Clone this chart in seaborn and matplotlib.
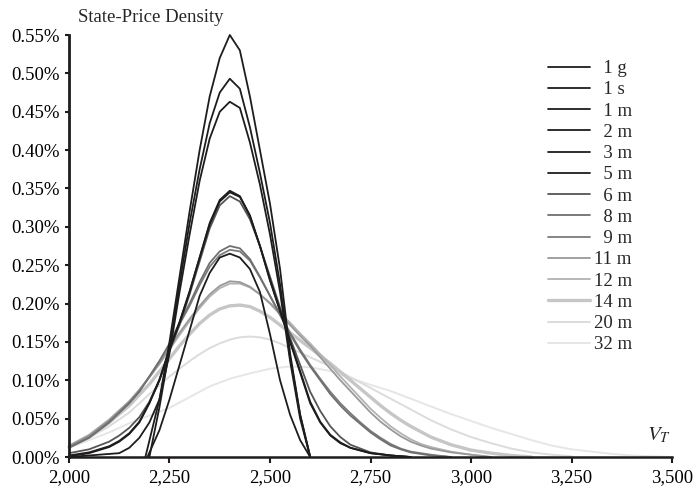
import matplotlib
matplotlib.use("Agg")
import matplotlib.pyplot as plt
from matplotlib.ticker import FuncFormatter
import numpy as np
import pandas as pd
import seaborn as sns

# maturities (legend labels) and their state-price densities (in %)
labels = ["1 g", "1 s", "1 m", "2 m", "3 m", "5 m", "6 m", "8 m", "9 m",
          "11 m", "12 m", "14 m", "20 m", "32 m"]

x_1g = [2190, 2225, 2250, 2275, 2300, 2325, 2350, 2375, 2400, 2425, 2450, 2475, 2500, 2525, 2550, 2575, 2600]
y_1g = [0.0, 0.075, 0.15, 0.235, 0.32, 0.40, 0.47, 0.52, 0.55, 0.53, 0.47, 0.40, 0.33, 0.245, 0.135, 0.055, 0.0]

x_1s = [2200, 2225, 2250, 2275, 2300, 2325, 2350, 2375, 2400, 2425, 2450, 2475, 2500, 2525, 2550, 2575, 2600]
y_1s = [0.0, 0.065, 0.14, 0.225, 0.305, 0.375, 0.435, 0.475, 0.493, 0.48, 0.43, 0.37, 0.305, 0.225, 0.13, 0.055, 0.0]

x_1m = [2000, 2125, 2150, 2175, 2200, 2225, 2250, 2275, 2300, 2325, 2350, 2375, 2400, 2425, 2450, 2475, 2500, 2525, 2550, 2575, 2600]
y_1m = [0.0, 0.005, 0.012, 0.025, 0.045, 0.075, 0.135, 0.215, 0.29, 0.36, 0.415, 0.45, 0.463, 0.455, 0.41, 0.355, 0.29, 0.215, 0.125, 0.05, 0.0]

x_2m = [2000, 2050, 2100, 2125, 2150, 2175, 2200, 2225, 2250, 2275, 2300, 2325, 2350, 2375, 2400, 2425, 2450, 2475, 2500, 2525, 2550, 2575, 2600, 2625, 2650, 2675, 2700, 2750, 2800, 2850]
y_2m = [0.001, 0.005, 0.013, 0.02, 0.03, 0.045, 0.07, 0.10, 0.14, 0.175, 0.215, 0.26, 0.305, 0.335, 0.347, 0.34, 0.315, 0.275, 0.23, 0.19, 0.15, 0.11, 0.07, 0.045, 0.028, 0.018, 0.012, 0.005, 0.002, 0.0]

x_3m = [2000, 2050, 2100, 2125, 2150, 2175, 2200, 2225, 2250, 2275, 2300, 2325, 2350, 2375, 2400, 2425, 2450, 2475, 2500, 2525, 2550, 2575, 2600, 2625, 2650, 2675, 2700, 2750, 2800, 2850]
y_3m = [0.002, 0.006, 0.014, 0.021, 0.031, 0.046, 0.071, 0.101, 0.141, 0.176, 0.216, 0.26, 0.303, 0.333, 0.345, 0.339, 0.314, 0.275, 0.231, 0.191, 0.151, 0.112, 0.072, 0.046, 0.029, 0.019, 0.012, 0.005, 0.002, 0.0]

x_5m = [2195, 2225, 2250, 2275, 2300, 2325, 2350, 2375, 2400, 2425, 2450, 2475, 2500, 2525, 2550, 2575, 2600]
y_5m = [0.0, 0.035, 0.075, 0.12, 0.165, 0.21, 0.24, 0.26, 0.265, 0.26, 0.245, 0.215, 0.16, 0.10, 0.055, 0.022, 0.0]

x_6m = [2000, 2050, 2100, 2125, 2150, 2175, 2200, 2225, 2250, 2275, 2300, 2325, 2350, 2375, 2400, 2425, 2450, 2475, 2500, 2525, 2550, 2575, 2600, 2625, 2650, 2675, 2700, 2750, 2800, 2850]
y_6m = [0.005, 0.01, 0.02, 0.028, 0.038, 0.052, 0.072, 0.10, 0.138, 0.172, 0.212, 0.255, 0.298, 0.328, 0.34, 0.333, 0.31, 0.275, 0.235, 0.195, 0.155, 0.12, 0.085, 0.06, 0.04, 0.026, 0.016, 0.006, 0.002, 0.0]

x_8m = [2000, 2050, 2100, 2150, 2175, 2200, 2225, 2250, 2275, 2300, 2325, 2350, 2375, 2400, 2425, 2450, 2475, 2500, 2525, 2550, 2575, 2600, 2625, 2650, 2675, 2700, 2725, 2750, 2775, 2800, 2825, 2850, 2900, 2950]
y_8m = [0.012, 0.025, 0.045, 0.07, 0.085, 0.105, 0.125, 0.148, 0.175, 0.20, 0.228, 0.253, 0.268, 0.275, 0.272, 0.258, 0.235, 0.21, 0.185, 0.16, 0.138, 0.118, 0.10, 0.082, 0.067, 0.054, 0.043, 0.032, 0.023, 0.015, 0.01, 0.006, 0.002, 0.0]

x_9m = [2000, 2050, 2100, 2150, 2175, 2200, 2225, 2250, 2275, 2300, 2325, 2350, 2375, 2400, 2425, 2450, 2475, 2500, 2525, 2550, 2575, 2600, 2625, 2650, 2675, 2700, 2725, 2750, 2775, 2800, 2825, 2850, 2900, 2950]
y_9m = [0.013, 0.026, 0.046, 0.071, 0.086, 0.105, 0.125, 0.147, 0.173, 0.197, 0.224, 0.248, 0.263, 0.27, 0.268, 0.256, 0.234, 0.21, 0.186, 0.162, 0.14, 0.12, 0.102, 0.085, 0.07, 0.057, 0.045, 0.034, 0.025, 0.017, 0.011, 0.007, 0.003, 0.0]

x_11m = [2000, 2050, 2100, 2150, 2175, 2200, 2225, 2250, 2275, 2300, 2325, 2350, 2375, 2400, 2425, 2450, 2475, 2500, 2525, 2550, 2575, 2600, 2625, 2650, 2675, 2700, 2725, 2750, 2775, 2800, 2825, 2850, 2875, 2900, 2950, 3000, 3050]
y_11m = [0.014, 0.028, 0.048, 0.072, 0.087, 0.104, 0.122, 0.142, 0.162, 0.18, 0.197, 0.212, 0.223, 0.229, 0.228, 0.222, 0.212, 0.20, 0.186, 0.172, 0.158, 0.145, 0.13, 0.115, 0.10, 0.086, 0.072, 0.058, 0.046, 0.036, 0.027, 0.02, 0.015, 0.011, 0.006, 0.003, 0.0]

x_12m = [2000, 2050, 2100, 2150, 2175, 2200, 2225, 2250, 2275, 2300, 2325, 2350, 2375, 2400, 2425, 2450, 2475, 2500, 2525, 2550, 2575, 2600, 2625, 2650, 2675, 2700, 2725, 2750, 2775, 2800, 2825, 2850, 2875, 2900, 2950, 3000, 3050]
y_12m = [0.015, 0.029, 0.049, 0.073, 0.088, 0.104, 0.121, 0.14, 0.159, 0.177, 0.194, 0.209, 0.22, 0.226, 0.226, 0.221, 0.212, 0.201, 0.188, 0.175, 0.161, 0.148, 0.134, 0.12, 0.105, 0.091, 0.077, 0.063, 0.051, 0.04, 0.031, 0.023, 0.017, 0.013, 0.007, 0.003, 0.0]

x_14m = [2000, 2050, 2100, 2150, 2200, 2250, 2275, 2300, 2325, 2350, 2375, 2400, 2425, 2450, 2475, 2500, 2525, 2550, 2575, 2600, 2625, 2650, 2675, 2700, 2725, 2750, 2775, 2800, 2825, 2850, 2875, 2900, 2950, 3000, 3050, 3100, 3150]
y_14m = [0.013, 0.026, 0.045, 0.067, 0.095, 0.128, 0.145, 0.16, 0.174, 0.185, 0.193, 0.197, 0.198, 0.196, 0.19, 0.182, 0.172, 0.162, 0.152, 0.142, 0.132, 0.122, 0.111, 0.10, 0.089, 0.078, 0.067, 0.057, 0.048, 0.04, 0.033, 0.026, 0.016, 0.009, 0.005, 0.002, 0.0]

x_20m = [2000, 2050, 2100, 2150, 2200, 2250, 2300, 2325, 2350, 2375, 2400, 2425, 2450, 2475, 2500, 2525, 2550, 2575, 2600, 2650, 2700, 2750, 2800, 2850, 2900, 2950, 3000, 3050, 3100, 3150, 3200, 3250]
y_20m = [0.013, 0.025, 0.04, 0.058, 0.082, 0.105, 0.125, 0.134, 0.142, 0.148, 0.153, 0.156, 0.157, 0.156, 0.153, 0.148, 0.142, 0.136, 0.13, 0.118, 0.104, 0.09, 0.076, 0.062, 0.048, 0.036, 0.026, 0.018, 0.011, 0.006, 0.003, 0.001]

x_32m = [2000, 2050, 2100, 2150, 2200, 2250, 2300, 2350, 2400, 2450, 2500, 2550, 2600, 2650, 2700, 2750, 2800, 2850, 2900, 2950, 3000, 3050, 3100, 3150, 3200, 3250, 3300, 3350, 3400, 3450, 3500]
y_32m = [0.012, 0.022, 0.032, 0.044, 0.054, 0.064, 0.078, 0.092, 0.102, 0.109, 0.115, 0.118, 0.117, 0.112, 0.103, 0.094, 0.086, 0.076, 0.066, 0.056, 0.047, 0.038, 0.03, 0.022, 0.015, 0.01, 0.007, 0.004, 0.002, 0.001, 0.0]

xs = [x_1g, x_1s, x_1m, x_2m, x_3m, x_5m, x_6m, x_8m, x_9m, x_11m, x_12m, x_14m, x_20m, x_32m]
ys = [y_1g, y_1s, y_1m, y_2m, y_3m, y_5m, y_6m, y_8m, y_9m, y_11m, y_12m, y_14m, y_20m, y_32m]

colors = ["#1e1c1d", "#1e1c1d", "#1e1c1d", "#1e1c1d", "#1e1c1d", "#1e1c1d",
          "#555555", "#707070", "#7b7b7b", "#999999", "#b2b2b2", "#c6c6c6",
          "#dcdcdc", "#e6e6e6"]
widths = [1.3] * 11 + [2.4, 1.4, 1.4]

df = pd.concat([pd.DataFrame({"V": x, "spd": y, "mat": lab})
                for x, y, lab in zip(xs, ys, labels)], ignore_index=True)

sns.set_theme(style="white")
plt.rcParams["font.family"] = ["Liberation Serif", "DejaVu Serif"]
plt.rcParams["mathtext.fontset"] = "stix"
FS = 13.5

fig = plt.figure(figsize=(6.98, 4.94), dpi=100)
ax = fig.add_axes([69 / 698, 1 - 457 / 494, (672 - 69) / 698, (457 - 35) / 494])

handles = {}
for lab, col, lw in reversed(list(zip(labels, colors, widths))):
    sub = df[df["mat"] == lab]
    sns.lineplot(data=sub, x="V", y="spd", color=col, lw=lw, ax=ax,
                 sort=False, estimator=None, clip_on=False)
    handles[lab] = ax.lines[-1]

ax.set_xlim(2000, 3500)
ax.set_ylim(0, 0.55)
ax.set_xticks(np.arange(2000, 3501, 250))
ax.set_yticks(np.arange(0, 0.551, 0.05))
ax.xaxis.set_major_formatter(FuncFormatter(lambda v, p: f"{int(v):,}"))
ax.yaxis.set_major_formatter(FuncFormatter(lambda v, p: f"{v:.2f}%"))
ax.set_xlabel("")
ax.set_ylabel("")
for s in ["top", "right"]:
    ax.spines[s].set_visible(False)
ax.spines["left"].set_linewidth(2.0)
ax.spines["bottom"].set_linewidth(1.8)
ax.spines["left"].set_color("#1e1c1d")
ax.spines["bottom"].set_color("#1e1c1d")
ax.tick_params(axis="x", direction="out", length=4, width=1.5, pad=5,
               labelsize=FS, colors="#1e1c1d", bottom=True)
ax.tick_params(axis="y", direction="out", length=3, width=1.5, pad=4,
               labelsize=FS, colors="#1e1c1d", left=True)
for t in ax.get_xticklabels() + ax.get_yticklabels():
    t.set_color("black")

fig.text(78 / 698, 1 - 17 / 494, "State-Price Density", fontsize=FS, va="center", ha="left")
ax.text(3438, 0.028, r"$V_T$", fontsize=15, ha="left", va="center")

leg_labels = [("\u2007" + l if len(l.split()[0]) == 1 else l) for l in labels]
ax.legend([handles[l] for l in labels], leg_labels, loc="upper left",
          bbox_to_anchor=(548 / 698, 1 - 60 / 494), bbox_transform=fig.transFigure,
          frameon=False, fontsize=FS, handlelength=2.25, handletextpad=0.2,
          labelspacing=0.22, borderpad=0, borderaxespad=0)

fig.savefig("out.png", dpi=100)
